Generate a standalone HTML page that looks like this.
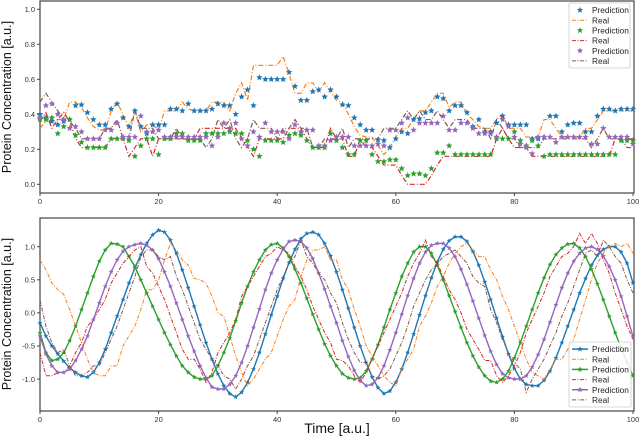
<!DOCTYPE html>
<html><head><meta charset="utf-8"><style>
html,body{margin:0;padding:0;background:#fff;}
svg{display:block;font-family:"Liberation Sans","DejaVu Sans",sans-serif;}
</style></head><body>
<svg id="fig" width="640" height="436" viewBox="0 0 640 436" xmlns="http://www.w3.org/2000/svg">
<rect x="0" y="0" width="640" height="436" fill="#fff"/>
<text transform="translate(11,97) rotate(-90)" text-anchor="middle" font-size="12.5" fill="#111">Protein Concentration [a.u.]</text>
<text transform="translate(11,314) rotate(-90)" text-anchor="middle" font-size="12.5" fill="#111">Protein Concentration [a.u.]</text>
<text x="337" y="433" text-anchor="middle" font-size="14" fill="#111">Time [a.u.]</text>
</svg>
<script>
// ---- top chart data ----
const topBluePred=[0.40,0.38,0.36,0.34,0.36,0.37,0.45,0.455,0.41,0.37,0.34,0.34,0.43,0.46,0.38,0.33,0.42,0.33,0.29,0.34,0.34,0.34,0.43,0.43,0.42,0.46,0.42,0.42,0.42,0.43,0.46,0.45,0.45,0.40,0.50,0.54,0.45,0.61,0.60,0.60,0.60,0.60,0.64,0.56,0.48,0.48,0.53,0.54,0.50,0.54,0.50,0.455,0.45,0.38,0.34,0.31,0.31,0.255,0.25,0.21,0.26,0.30,0.29,0.37,0.375,0.41,0.42,0.50,0.49,0.42,0.45,0.45,0.41,0.33,0.37,0.30,0.30,0.35,0.39,0.34,0.34,0.34,0.34,0.26,0.26,0.27,0.39,0.39,0.30,0.34,0.35,0.35,0.30,0.30,0.39,0.43,0.43,0.42,0.43,0.43,0.43];
const topOrangeReal=[0.32,0.36,0.36,0.37,0.37,0.47,0.47,0.44,0.38,0.33,0.31,0.31,0.42,0.47,0.40,0.32,0.42,0.30,0.34,0.34,0.31,0.42,0.42,0.42,0.47,0.43,0.42,0.42,0.42,0.47,0.47,0.47,0.42,0.52,0.58,0.48,0.68,0.68,0.68,0.68,0.68,0.73,0.63,0.52,0.52,0.58,0.58,0.53,0.58,0.53,0.48,0.47,0.40,0.33,0.28,0.27,0.27,0.22,0.17,0.21,0.27,0.32,0.32,0.37,0.42,0.42,0.47,0.52,0.52,0.44,0.47,0.47,0.40,0.37,0.33,0.32,0.32,0.37,0.40,0.32,0.32,0.32,0.27,0.27,0.27,0.37,0.37,0.32,0.27,0.27,0.27,0.27,0.32,0.32,0.37,0.42,0.42,0.42,0.42,0.42,0.42];
const topGreenPred=[0.37,0.37,0.38,0.29,0.33,0.37,0.28,0.24,0.21,0.21,0.21,0.21,0.26,0.26,0.26,0.25,0.16,0.22,0.26,0.26,0.17,0.26,0.26,0.29,0.29,0.25,0.25,0.25,0.29,0.29,0.29,0.29,0.30,0.29,0.29,0.25,0.20,0.16,0.25,0.25,0.25,0.24,0.28,0.29,0.28,0.25,0.21,0.21,0.21,0.29,0.25,0.21,0.17,0.17,0.25,0.25,0.17,0.13,0.13,0.14,0.14,0.09,0.05,0.06,0.06,0.05,0.09,0.18,0.18,0.22,0.17,0.17,0.17,0.17,0.17,0.17,0.17,0.26,0.26,0.26,0.30,0.25,0.22,0.25,0.22,0.16,0.17,0.17,0.17,0.17,0.17,0.17,0.17,0.17,0.17,0.17,0.17,0.17,0.25,0.25,0.25];
const topRedReal=[0.36,0.41,0.32,0.37,0.41,0.36,0.26,0.21,0.21,0.21,0.21,0.21,0.26,0.26,0.26,0.16,0.21,0.26,0.26,0.16,0.26,0.26,0.26,0.32,0.26,0.26,0.26,0.32,0.32,0.32,0.32,0.32,0.32,0.32,0.26,0.21,0.16,0.26,0.26,0.26,0.26,0.26,0.32,0.32,0.32,0.26,0.21,0.21,0.21,0.32,0.26,0.26,0.16,0.16,0.26,0.21,0.21,0.16,0.11,0.11,0.11,0.05,0.00,0.00,0.00,0.00,0.05,0.11,0.16,0.16,0.16,0.16,0.16,0.16,0.16,0.16,0.16,0.26,0.32,0.26,0.21,0.21,0.21,0.16,0.16,0.16,0.16,0.16,0.16,0.16,0.16,0.16,0.16,0.16,0.16,0.16,0.16,0.26,0.26,0.26,0.26];
const topPurplePred=[0.38,0.45,0.46,0.40,0.37,0.32,0.33,0.30,0.26,0.26,0.26,0.31,0.31,0.35,0.27,0.27,0.27,0.39,0.30,0.30,0.31,0.27,0.27,0.27,0.27,0.27,0.27,0.27,0.27,0.22,0.27,0.35,0.32,0.35,0.26,0.22,0.30,0.27,0.35,0.30,0.30,0.30,0.26,0.34,0.30,0.31,0.31,0.22,0.22,0.25,0.27,0.27,0.27,0.22,0.22,0.22,0.22,0.23,0.22,0.31,0.31,0.35,0.38,0.31,0.35,0.35,0.35,0.35,0.39,0.31,0.31,0.35,0.35,0.32,0.29,0.29,0.29,0.27,0.37,0.33,0.27,0.23,0.21,0.175,0.27,0.27,0.27,0.24,0.27,0.27,0.27,0.27,0.27,0.23,0.23,0.32,0.27,0.27,0.27,0.27,0.23];
const topBrownReal=[0.47,0.52,0.47,0.42,0.37,0.36,0.32,0.26,0.26,0.26,0.26,0.32,0.32,0.37,0.26,0.26,0.42,0.32,0.32,0.32,0.26,0.26,0.26,0.26,0.26,0.26,0.26,0.26,0.21,0.26,0.37,0.32,0.37,0.26,0.21,0.26,0.37,0.32,0.32,0.32,0.26,0.32,0.32,0.37,0.32,0.32,0.21,0.21,0.26,0.26,0.26,0.32,0.21,0.26,0.26,0.26,0.26,0.26,0.32,0.32,0.32,0.37,0.42,0.37,0.42,0.37,0.37,0.42,0.37,0.32,0.37,0.37,0.37,0.32,0.32,0.32,0.26,0.37,0.32,0.26,0.26,0.21,0.21,0.21,0.21,0.26,0.26,0.26,0.26,0.26,0.26,0.26,0.26,0.21,0.26,0.32,0.26,0.26,0.26,0.21,0.21];
const topYTicks=[0.0,0.2,0.4,0.6,0.8,1.0];
const topYTickLabels=["0.0","0.2","0.4","0.6","0.8","1.0"];
// ---- bottom chart data ----
const botBluePred=[-0.15,-0.35,-0.5,-0.62,-0.73,-0.83,-0.9,-0.95,-0.97,-0.9,-0.75,-0.55,-0.3,-0.05,0.2,0.45,0.68,0.88,1.05,1.18,1.25,1.22,1.1,0.9,0.65,0.38,0.1,-0.18,-0.45,-0.7,-0.92,-1.1,-1.22,-1.27,-1.2,-1.05,-0.85,-0.6,-0.32,-0.03,0.25,0.52,0.76,0.96,1.12,1.2,1.22,1.18,1.05,0.86,0.62,0.35,0.07,-0.22,-0.5,-0.75,-0.97,-1.13,-1.22,-1.18,-1.05,-0.85,-0.6,-0.32,-0.03,0.26,0.53,0.77,0.96,1.09,1.15,1.15,1.08,0.93,0.72,0.47,0.2,-0.08,-0.36,-0.62,-0.84,-1.0,-1.08,-1.1,-1.1,-1.02,-0.88,-0.68,-0.45,-0.2,0.05,0.3,0.52,0.72,0.87,0.96,1.0,1.0,0.92,0.75,0.45];
const botOrangeReal=[0.8,0.65,0.45,0.35,0.28,0.05,-0.2,-0.45,-0.7,-0.9,-0.95,-0.95,-0.8,-0.8,-0.5,-0.35,-0.2,0.05,0.35,0.35,0.5,0.8,1.05,0.95,0.8,0.72,0.52,0.5,0.45,0.25,0.0,-0.05,-0.35,-0.65,-0.9,-1.1,-1.0,-0.85,-0.7,-0.6,-0.35,-0.1,0.1,0.2,0.55,0.8,0.95,0.95,1.0,0.8,0.8,0.5,0.35,0.05,-0.2,-0.5,-0.65,-0.8,-0.95,-1.05,-1.1,-0.85,-0.7,-0.55,-0.2,-0.05,0.15,0.4,0.55,0.75,0.9,1.0,1.05,0.95,0.85,0.85,0.65,0.5,0.25,0.05,-0.2,-0.45,-0.7,-0.9,-0.95,-1.0,-0.85,-0.7,-0.7,-0.55,-0.4,-0.1,0.2,0.5,0.75,0.9,1.0,1.05,1.0,1.05,0.9];
const botGreenPred=[-0.3,-0.6,-0.72,-0.7,-0.6,-0.42,-0.2,0.05,0.3,0.55,0.78,0.95,1.05,1.04,1.0,0.85,0.7,0.5,0.3,0.1,-0.1,-0.3,-0.48,-0.65,-0.8,-0.9,-0.97,-1.0,-1.0,-0.95,-0.8,-0.6,-0.38,-0.12,0.15,0.4,0.62,0.8,0.95,1.03,1.05,0.98,0.85,0.66,0.45,0.22,-0.02,-0.25,-0.47,-0.65,-0.8,-0.92,-0.98,-1.0,-0.98,-0.88,-0.7,-0.48,-0.22,0.05,0.3,0.55,0.75,0.92,1.0,1.0,0.9,0.72,0.5,0.26,0.02,-0.22,-0.45,-0.65,-0.82,-0.95,-1.03,-1.05,-1.0,-0.88,-0.68,-0.45,-0.2,0.05,0.3,0.53,0.73,0.88,0.98,1.04,1.05,0.98,0.85,0.66,0.44,0.2,-0.05,-0.3,-0.53,-0.75,-0.95];
const botRedReal=[-0.6,-0.95,-0.95,-0.9,-0.9,-0.8,-0.6,-0.45,-0.2,-0.1,0.05,0.2,0.45,0.6,0.75,0.85,0.95,1.0,0.7,0.6,0.4,0.2,-0.05,-0.3,-0.55,-0.7,-0.7,-0.85,-1.05,-0.9,-0.6,-0.45,-0.3,-0.1,0.25,0.4,0.55,0.7,0.85,0.9,1.0,0.95,0.9,0.7,0.55,0.35,0.1,-0.1,-0.3,-0.45,-0.7,-0.72,-0.8,-0.95,-1.05,-0.9,-0.7,-0.5,-0.3,-0.1,0.1,0.3,0.55,0.75,0.9,1.1,0.85,0.75,0.55,0.35,0.2,0.0,-0.25,-0.4,-0.55,-0.72,-0.72,-0.95,-1.05,-0.95,-0.8,-0.6,-0.3,-0.1,0.1,0.3,0.55,0.7,0.85,0.9,1.0,1.2,1.05,1.2,1.05,0.8,0.6,0.3,0.05,-0.2,-0.4];
const botPurplePred=[-0.35,-0.62,-0.8,-0.9,-0.9,-0.85,-0.72,-0.55,-0.35,-0.1,0.15,0.4,0.62,0.8,0.93,1.0,1.03,1.05,1.02,0.95,0.82,0.62,0.4,0.15,-0.1,-0.35,-0.58,-0.8,-0.98,-1.12,-1.15,-1.15,-1.08,-0.95,-0.75,-0.5,-0.22,0.06,0.35,0.6,0.8,0.96,1.08,1.1,1.08,0.98,0.82,0.6,0.36,0.1,-0.15,-0.42,-0.66,-0.87,-1.02,-1.1,-1.08,-0.98,-0.8,-0.56,-0.3,-0.02,0.26,0.52,0.75,0.92,1.02,1.05,1.05,0.98,0.85,0.66,0.43,0.18,-0.08,-0.34,-0.58,-0.78,-0.92,-0.98,-1.0,-1.0,-0.95,-0.82,-0.63,-0.4,-0.14,0.12,0.38,0.6,0.78,0.9,0.98,1.0,0.96,0.86,0.7,0.5,0.25,-0.05,-0.36];
const botBrownReal=[0.2,-0.2,-0.45,-0.6,-0.55,-0.8,-0.95,-0.95,-0.9,-0.8,-0.8,-0.6,-0.4,-0.2,0.05,0.3,0.55,0.85,0.95,0.95,0.85,0.8,0.85,0.55,0.35,0.1,-0.15,-0.4,-0.55,-0.7,-0.8,-0.95,-1.0,-1.15,-1.0,-0.8,-0.65,-0.4,-0.15,0.1,0.35,0.55,0.75,0.85,1.1,0.85,0.75,0.6,0.5,0.3,0.15,-0.15,-0.4,-0.6,-0.75,-0.75,-0.95,-1.0,-0.95,-0.85,-0.65,-0.45,-0.2,0.1,0.3,0.5,0.65,0.75,0.85,0.9,0.95,0.85,0.75,0.55,0.45,0.4,0.05,-0.15,-0.4,-0.6,-0.75,-0.85,-1.2,-1.0,-0.85,-0.7,-0.5,-0.3,-0.05,0.15,0.4,0.65,0.9,0.95,0.85,1.1,1.0,0.85,0.75,0.5,0.3];
const botYTicks=[-1.0,-0.5,0.0,0.5,1.0];
const botYTickLabels=["-1.0","-0.5","0.0","0.5","1.0"];
const xTicks=[0,20,40,60,80,100];
const xTickLabels=["0","20","40","60","80","100"];
const legendLabels=["Prediction","Real","Prediction","Real","Prediction","Real"];

const NS="http://www.w3.org/2000/svg";
const svg=document.getElementById('fig');
function mk(tag,attrs,parent){const e=document.createElementNS(NS,tag);for(const k in attrs)e.setAttribute(k,attrs[k]);(parent||svg).appendChild(e);return e;}
function starPts(cx,cy,r){let p=[];for(let i=0;i<10;i++){const a=-Math.PI/2+i*Math.PI/5;const rr=i%2?r*0.45:r;p.push((cx+rr*Math.cos(a)).toFixed(2)+','+(cy+rr*Math.sin(a)).toFixed(2));}return p.join(' ');}

function drawAxes(name,L,R,T,B,xs,ys,yTicks,yLabels){
  const g=mk('g',{});
  
  
  const f=mk('rect',{x:L,y:T,width:R-L,height:B-T,fill:'none',stroke:'#444','stroke-width':1.2},g);
  
  
  xTicks.forEach((v,i)=>{
    mk('line',{x1:xs(v),x2:xs(v),y1:B,y2:B+3,stroke:'#444'},g);
    const t=mk('text',{x:xs(v),y:B+11,'text-anchor':'middle','font-size':7.5,fill:'#333'},g);
    t.textContent=xTickLabels[i];
    
    
  });
  yTicks.forEach((v,i)=>{
    mk('line',{x1:L-3,x2:L,y1:ys(v),y2:ys(v),stroke:'#444'},g);
    const t=mk('text',{x:L-5,y:ys(v)+2.7,'text-anchor':'end','font-size':7.5,fill:'#333'},g);
    t.textContent=yLabels[i];
    
    
  });
}
function linePath(arr,xs,ys){return arr.map((v,i)=>(i?'L':'M')+xs(i).toFixed(2)+','+ys(v).toFixed(2)).join('');}

function drawLegend(name,x,y,w,h,colors,kinds){
  const g=mk('g',{});
  
  
  mk('rect',{x:x,y:y,width:w,height:h,fill:'#fff','fill-opacity':0.85,stroke:'#ccc','stroke-width':0.8,rx:1.5},g);
  const step=(h-4)/6;
  legendLabels.forEach((lab,i)=>{
    const cy=y+2+step*(i+0.5);
    const e=mk('g',{},g);
    
    
    if(kinds[i]==='star'){mk('polygon',{points:starPts(x+11,cy,3.3),fill:colors[i]},e);}
    else if(kinds[i]==='starline'){mk('line',{x1:x+3,x2:x+19,y1:cy,y2:cy,stroke:colors[i],'stroke-width':1.5},e);mk('polygon',{points:starPts(x+11,cy,3),fill:colors[i]},e);}
    else{mk('line',{x1:x+3,x2:x+19,y1:cy,y2:cy,stroke:colors[i],'stroke-width':1,'stroke-dasharray':'4,1.5,1,1.5'},e);}
    const t=mk('text',{x:x+23,y:cy+3,'font-size':8.3,fill:'#222'},e);
    t.textContent=lab;
  });
}

const cols=['#1f77b4','#ff7f0e','#2ca02c','#d62728','#9467bd','#8c564b'];

// ---- top chart ----
{
  const L=40,R=634,T=1,B=193;
  const xs=v=>L+v*5.93;
  const ys=v=>184.3-v*175;
  drawAxes('top',L,R,T,B,xs,ys,topYTicks,topYTickLabels);
  const reals=[[topOrangeReal,cols[1],'top-real-orange'],[topRedReal,cols[3],'top-real-red'],[topBrownReal,cols[5],'top-real-brown']];
  reals.forEach(r=>{
    const p=mk('path',{d:linePath(r[0],xs,ys),fill:'none',stroke:r[1],'stroke-width':1.2,'stroke-dasharray':'5,2,1,2'});
    
    
  });
  const preds=[[topBluePred,cols[0],'top-pred-blue'],[topGreenPred,cols[2],'top-pred-green'],[topPurplePred,cols[4],'top-pred-purple']];
  preds.forEach(s=>{
    const g=mk('g',{fill:s[1]});
    
    
    s[0].forEach((v,i)=>{const m=mk('polygon',{points:starPts(xs(i),ys(v),3.4)},g);
      
      });
  });
  drawLegend('top',569,3,61,65,cols,['star','dash','star','dash','star','dash']);
}
// ---- bottom chart ----
{
  const L=40,R=634,T=218,B=411;
  const xs=v=>L+v*5.93;
  const ys=v=>312.9-v*66.2;
  drawAxes('bottom',L,R,T,B,xs,ys,botYTicks,botYTickLabels);
  const series=[[botBluePred,cols[0],'pred','bottom-pred-blue'],[botOrangeReal,cols[1],'real','bottom-real-orange'],[botGreenPred,cols[2],'pred','bottom-pred-green'],[botRedReal,cols[3],'real','bottom-real-red'],[botPurplePred,cols[4],'pred','bottom-pred-purple'],[botBrownReal,cols[5],'real','bottom-real-brown']];
  series.forEach(s=>{
    const g=mk('g',{});
    
    
    if(s[2]==='pred'){
      mk('path',{d:linePath(s[0],xs,ys),fill:'none',stroke:s[1],'stroke-width':1.4},g);
      s[0].forEach((v,i)=>{const m=mk('polygon',{points:starPts(xs(i),ys(v),2.6),fill:s[1]},g);
        
        });
    } else {
      mk('path',{d:linePath(s[0],xs,ys),fill:'none',stroke:s[1],'stroke-width':1,'stroke-dasharray':'4,1.5,1,1.5'},g);
    }
  });
  drawLegend('bottom',569,342,62,65,cols,['starline','dash','starline','dash','starline','dash']);
}
</script>
</body></html>
